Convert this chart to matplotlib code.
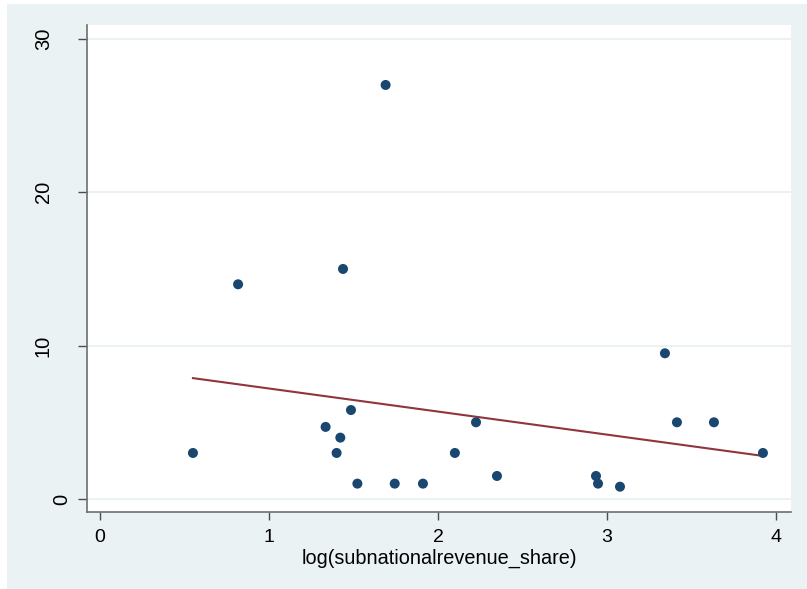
import matplotlib
matplotlib.use("Agg")
import matplotlib.pyplot as plt
from matplotlib.patches import Rectangle
from matplotlib.transforms import ScaledTranslation
import numpy as np

# data
log_share = [0.55, 0.817, 1.438, 1.69, 1.335, 1.422, 1.40, 1.485, 1.523, 1.744, 1.911,
             2.10, 2.225, 2.349, 2.935, 2.947, 3.077, 3.343, 3.414, 3.633, 3.923]
yvals = [3.0, 14.0, 15.0, 27.0, 4.7, 4.0, 3.0, 5.8, 1.0, 1.0, 1.0,
         3.0, 5.0, 1.5, 1.5, 1.0, 0.8, 9.5, 5.0, 5.0, 3.0]
xticks = [0, 1, 2, 3, 4]
yticks = [0, 10, 20, 30]

plt.rcParams['font.family'] = ['Liberation Sans', 'DejaVu Sans']

bg = '#eaf2f3'
fig = plt.figure(figsize=(8.07, 5.89), dpi=100)
fig.patch.set_facecolor('white')
fig.patches.append(Rectangle((7 / 807, 0), 1, 1 - 4 / 589, transform=fig.transFigure,
                             facecolor=bg, edgecolor='none', zorder=-1))

ax = fig.add_axes([87 / 807, 1 - 512 / 589, (791 - 87) / 807, (512 - 25) / 589])
ax.set_facecolor('white')

# linear fit
x = np.array(log_share)
y = np.array(yvals)
b, a = np.polyfit(x, y, 1)
xs = np.array([x.min(), x.max()])
ax.plot(xs, a + b * xs, color='#90353b', lw=1.5, zorder=2)
ax.scatter(x, y, s=52, color='#1a476f', edgecolor='none', zorder=3)

ax.set_xlim(-0.077, 4.089)
ax.set_ylim(-0.85, 30.91)
ax.set_xticks(xticks)
ax.set_yticks(yticks)
for t in yticks:
    ax.axhline(t, color=bg, lw=1.5, zorder=1)

for s in ['top', 'right']:
    ax.spines[s].set_visible(False)
for s in ['left', 'bottom']:
    ax.spines[s].set_color('#6e6e6e')
    ax.spines[s].set_linewidth(1.2)

ax.tick_params(axis='both', direction='out', width=1, color='#4d4d4d', labelsize=14)
ax.tick_params(axis='x', length=6, pad=6)
ax.tick_params(axis='y', length=6.5, labelleft=False)

# rotated y labels, placed like stata does (single digit sits closer to the axis)
for t in yticks:
    dx = -16 if len(str(t)) == 1 else -34
    tr = ax.get_yaxis_transform() + ScaledTranslation(dx / 100, 0, fig.dpi_scale_trans)
    ax.text(0, t, str(t), transform=tr, rotation=90, ha='right', va='center',
            fontsize=14.5, clip_on=False)

ax.set_xlabel('log(subnationalrevenue_share)', fontsize=14.3, labelpad=2)

fig.savefig('out.png', dpi=100, facecolor=fig.get_facecolor())
